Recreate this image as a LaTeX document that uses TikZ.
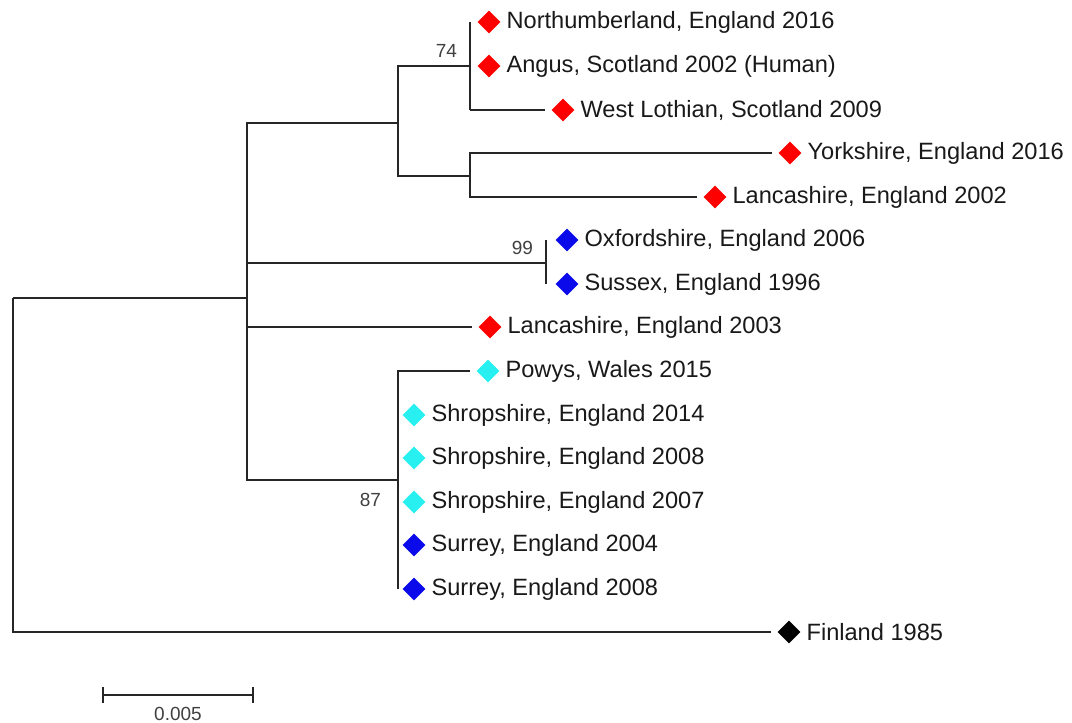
\documentclass[tikz,border=0pt]{standalone}
\usepackage{fontspec}
\setmainfont{Liberation Sans}
\usetikzlibrary{shapes.geometric}
\definecolor{aqua}{RGB}{40,240,240}
\definecolor{deepblue}{RGB}{10,10,235}
\begin{document}
\begin{tikzpicture}[x=0.5pt, y=-0.5pt,
leaf/.style={diamond, inner sep=0pt, minimum size=11.6pt, fill=#1},
taxon/.style={anchor=west, font=\fontsize{11.8}{14}\selectfont, text=black!90, inner sep=2.6pt},
boot/.style={font=\fontsize{9.5}{11}\selectfont, text=black!75},
branch/.style={line width=0.9pt, black!85},
tip/.style={branch, shorten >=3pt}]
\useasboundingbox (0,0) rectangle (1072,723);
\coordinate (root) at (13,298);
\coordinate (nA) at (247,298);
\coordinate (nB) at (398,123);
\coordinate (nC) at (470,66);
\coordinate (nD) at (470,176);
\coordinate (nE) at (546,263);
\coordinate (nF) at (398,480);
\node[leaf=red] (north) at (489,22) {};
\node[leaf=red] (angus) at (489,66) {};
\node[leaf=red] (wloth) at (563,110) {};
\node[leaf=red] (york) at (790,153) {};
\node[leaf=red] (lanc02) at (715,197) {};
\node[leaf=deepblue] (oxford) at (567,240) {};
\node[leaf=deepblue] (sussex) at (567,284) {};
\node[leaf=red] (lanc03) at (490,327) {};
\node[leaf=aqua] (powys) at (488,371) {};
\node[leaf=aqua] (shrop14) at (414,415) {};
\node[leaf=aqua] (shrop08) at (414,458) {};
\node[leaf=aqua] (shrop07) at (414,502) {};
\node[leaf=deepblue] (surrey04) at (414,545) {};
\node[leaf=deepblue] (surrey08) at (414,589) {};
\node[leaf=black] (fin) at (789,632) {};
\node[taxon] at (north.east) {Northumberland, England 2016};
\node[taxon] at (angus.east) {Angus, Scotland 2002 (Human)};
\node[taxon] at (wloth.east) {West Lothian, Scotland 2009};
\node[taxon] at (york.east) {Yorkshire, England 2016};
\node[taxon] at (lanc02.east) {Lancashire, England 2002};
\node[taxon] at (oxford.east) {Oxfordshire, England 2006};
\node[taxon] at (sussex.east) {Sussex, England 1996};
\node[taxon] at (lanc03.east) {Lancashire, England 2003};
\node[taxon] at (powys.east) {Powys, Wales 2015};
\node[taxon] at (shrop14.east) {Shropshire, England 2014};
\node[taxon] at (shrop08.east) {Shropshire, England 2008};
\node[taxon] at (shrop07.east) {Shropshire, England 2007};
\node[taxon] at (surrey04.east) {Surrey, England 2004};
\node[taxon] at (surrey08.east) {Surrey, England 2008};
\node[taxon] at (fin.east) {Finland 1985};
\draw[branch] (root) -- (nA);
\draw[tip] (root) |- (fin.west);
\draw[branch] (nA) |- (nB);
\draw[branch] (nA) |- (nF);
\draw[branch] (nA |- nE) -- (nE);
\draw[tip] (nA |- lanc03) -- (lanc03.west);
\draw[branch] (nB) |- (nC);
\draw[branch] (nB) |- (nD);
\draw[branch] (nC |- north) -- (nC |- wloth);
\draw[tip] (nC |- wloth) -- (wloth.west);
\draw[tip] (nD) |- (york.west);
\draw[tip] (nD) |- (lanc02.west);
\draw[branch] (nE |- oxford) -- (nE |- sussex);
\draw[tip] (nF) |- (powys.west);
\draw[branch] (nF |- powys) -- (nF |- surrey08);
\node[boot, anchor=east] (b74) at (464,51) {74};
\node[boot, anchor=east] (b99) at (540,248) {99};
\node[boot, anchor=east] (b87) at (388,500) {87};
\coordinate (sbl) at (103,695);
\coordinate (sbr) at (253,695);
\draw[branch] (sbl) -- (sbr);
\draw[branch] ([yshift=-4pt]sbl) -- ([yshift=4pt]sbl);
\draw[branch] ([yshift=-4pt]sbr) -- ([yshift=4pt]sbr);
\node[boot] (scale) at (178,714) {0.005};
\end{tikzpicture}
\end{document}
